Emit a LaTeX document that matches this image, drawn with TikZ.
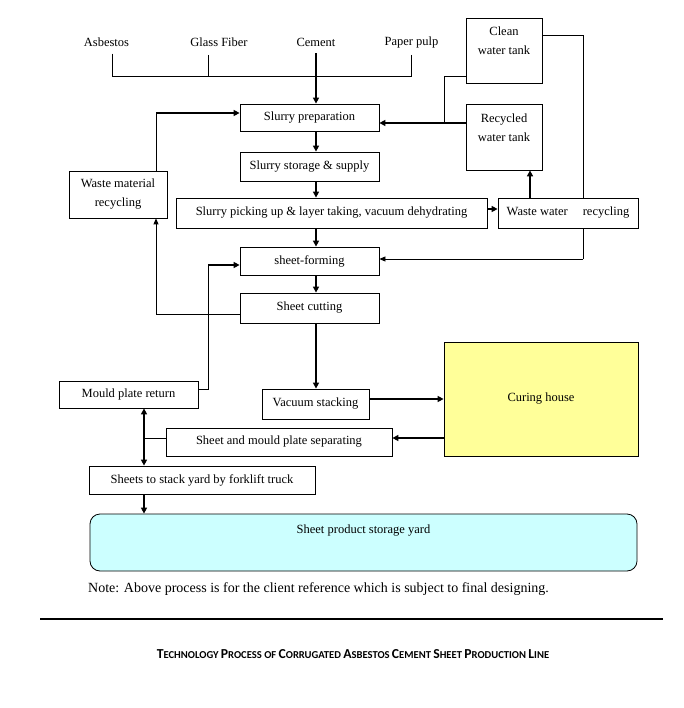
\documentclass[tikz,border=0pt]{standalone}
\usepackage{fontspec}
\setmainfont{Liberation Serif}
\newfontfamily\titlefont{Carlito}
\usetikzlibrary{arrows.meta,calc,backgrounds}
\newcommand\tsc[2]{{\fontsize{13.7}{15}\selectfont #1}{\fontsize{10.6}{12}\selectfont #2}}
\begin{document}
\begin{tikzpicture}[x=1pt,y=-1pt,
  box/.style={draw,line width=0.8pt,fill=white,inner sep=0pt,font=\fontsize{12.5}{19}\selectfont,align=center},
  lbl/.style={inner sep=0pt,font=\fontsize{12.5}{14}\selectfont},
  thn/.style={line width=0.8pt},
  thk/.style={line width=2.6pt},
  tip/.style={-{Triangle[length=6pt,width=6pt]}},
  tipt/.style={-{Triangle[length=6pt,width=5pt]}},
  dtip/.style={{Triangle[length=6pt,width=6pt]}-{Triangle[length=6pt,width=6pt]}}]
\useasboundingbox (0,0) rectangle (683,708);
% inputs
\node[lbl] (asb) at (106.5,42) {Asbestos};
\node[lbl] (gf) at (219,42) {Glass Fiber};
\node[lbl] (cem) at (316,42) {Cement};
\node[lbl] (pp) at (411.5,42) {Paper pulp};
% boxes
\node[box,minimum width=139pt,minimum height=27pt] (sp) at (309.5,117.5) {Slurry preparation};
\node[box,minimum width=139pt,minimum height=29pt] (ss) at (309.5,166.5) {Slurry storage \& supply};
\node[box,minimum width=311pt,minimum height=30pt] (pick) at (331.5,213) {Slurry picking up \& layer taking, vacuum dehydrating};
\node[box,minimum width=139pt,minimum height=28pt] (sf) at (309.5,261) {sheet-forming};
\node[box,minimum width=139pt,minimum height=30pt] (sc) at (309.5,308) {Sheet cutting};
\node[box,minimum width=107pt,minimum height=30pt] (vs) at (315.5,404) {Vacuum stacking};
\node[box,fill={rgb,255:red,255;green,255;blue,153},minimum width=194pt,minimum height=114pt] (ch) at (541,399) {Curing house};
\node[box,minimum width=226pt,minimum height=28pt] (sep) at (279,442) {Sheet and mould plate separating};
\node[box,minimum width=139pt,minimum height=27pt] (mpr) at (128.5,394.5) {Mould plate return};
\node[box,minimum width=226pt,minimum height=28pt] (stk) at (202,480) {Sheets to stack yard by forklift truck};
\node[box,rounded corners=10pt,fill={rgb,255:red,204;green,255;blue,255},minimum width=547pt,minimum height=57pt,
  label={[lbl,anchor=center,yshift=-17pt]north:Sheet product storage yard}] (yard) at (363.5,542.5) {};
\node[box,minimum width=98pt,minimum height=47pt] (wmr) at (118,194.5) {Waste material\\recycling};
\node[box,minimum width=76pt,minimum height=65pt] (cwt) at (504,50.5) {Clean\\water tank\\~};
\node[box,minimum width=76pt,minimum height=66pt] (rwt) at (504,137) {Recycled\\water tank\\~};
\node[box,minimum width=140pt,minimum height=30pt] (wwr) at (568,213) {Waste water\hspace{1.2em}recycling};
% coordinates
\coordinate (bus) at (316,76);
\coordinate (gfl) at (208,55);
\coordinate (j1) at (444,123);
\coordinate (j2) at (583,259);
\coordinate (j3) at (156,113);
\coordinate (j4) at (208,265);
\coordinate (j5) at (444,438);
\coordinate (c144) at (144,0);
% raw material lines
\draw[thn] ($(asb.south)+(5.5,7)$) |- (bus);
\draw[thn] (gfl) -- (gfl |- bus);
\draw[thn] ($(pp.south)+(0,7)$) |- (bus);
\draw[thk,tip] ($(cem.south)+(0,7)$) -- (cem |- sp.north);
% main trunk
\draw[thk,tip] (sp.south -| cem) -- (ss.north -| cem);
\draw[thk,tip] (ss.south -| cem) -- (pick.north -| cem);
\draw[thk,tip] (pick.south -| cem) -- (sf.north -| cem);
\draw[thk,tip] (sf.south -| cem) -- (sc.north -| cem);
\draw[thk,tip] (sc.south -| cem) -- (vs.north -| cem);
% water
\draw[thn] ($(cwt.south west)+(0,-7)$) -| (j1);
\draw[thk,tip] (rwt.west |- j1) -- (sp.east |- j1);
\begin{scope}[on background layer]
\draw[thn] ($(cwt.north east)+(0,18)$) -| (j2);
\end{scope}
\draw[thn,tipt] (j2) -- (sf.east |- j2);
\draw[thk,tip] ($(wwr.north)+(-38,0)$) -- ($(rwt.south)+(26,0)$);
\draw[thk,tip] ([yshift=4pt]pick.east) -- ([yshift=4pt]wwr.west);
% waste material
\draw[thn,tipt] ([yshift=-6pt]sc.west) -| ([xshift=38pt]wmr.south);
\draw[thn] ([xshift=38pt]wmr.north) -- (j3);
\draw[thk,tip] (j3) -- (sp.west |- j3);
% mould plate return
\draw[thn] ([yshift=5.5pt]mpr.east) -| (j4);
\draw[thk,tip] (j4) -- (sf.west |- j4);
% curing
\draw[thk,tip] ([yshift=5pt]vs.east) -- ([yshift=5pt]vs.east -| ch.west);
\draw[thk,tip] (j5) -- (sep.east |- j5);
\draw[thn] (sep.west |- j5) -- (c144 |- j5);
\draw[thk,dtip] (mpr.south -| c144) -- (stk.north -| c144);
\draw[thk,tip] (stk.south -| c144) -- (yard.north -| c144);
% note and title
\node[lbl,anchor=west,font=\fontsize{14}{16}\selectfont] (note) at (88,589) {Note: Above process is for the client reference which is subject to final designing.};
\draw[line width=2pt] (40,619) -- (663,619);
\node[inner sep=0pt,font=\titlefont\bfseries] (title) at (353,654) {\tsc{T}{ECHNOLOGY} \tsc{P}{ROCESS OF} \tsc{C}{ORRUGATED} \tsc{A}{SBESTOS} \tsc{C}{EMENT} \tsc{S}{HEET} \tsc{P}{RODUCTION} \tsc{L}{INE}};
\end{tikzpicture}
\end{document}
